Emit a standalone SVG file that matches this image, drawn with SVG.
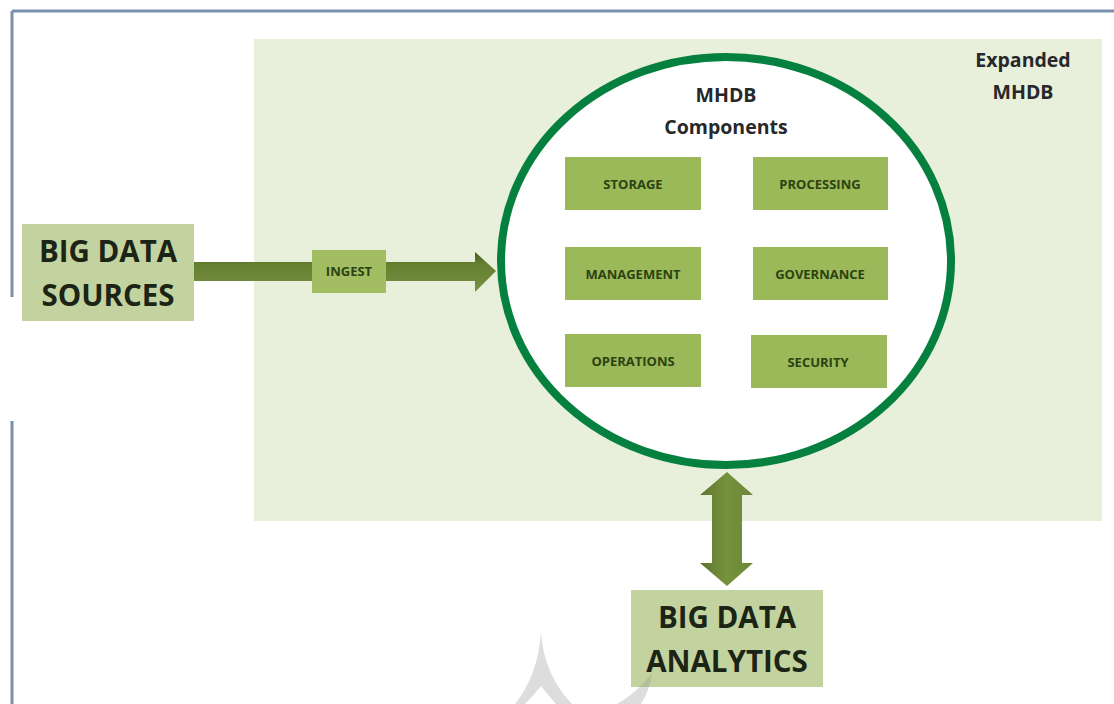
<svg xmlns="http://www.w3.org/2000/svg" width="1114" height="704" viewBox="0 0 1114 704">
<defs>
<linearGradient id="h" x1="0" y1="0" x2="0" y2="1"><stop offset="0" stop-color="#46591f"/><stop offset="0.3" stop-color="#64802f"/><stop offset="0.7" stop-color="#70883c"/><stop offset="1" stop-color="#76923c"/></linearGradient>
<linearGradient id="v" x1="0" y1="0" x2="1" y2="0"><stop offset="0" stop-color="#5d7530"/><stop offset="0.5" stop-color="#76923c"/><stop offset="1" stop-color="#6b8636"/></linearGradient>
</defs>
<style>
text{font-family:"Open Sans","Liberation Sans",sans-serif;font-weight:700;text-anchor:middle}
.big{font-size:29.5px;fill:#1c2415}
.head{font-size:19.5px;fill:#26282a}
.small{font-size:13px;fill:#2c4212}
.src{fill:#c3d39f}
.comp{fill:#9bb959}
.line{stroke:#7a8fad;stroke-width:3;fill:none}
</style>
<rect width="1114" height="704" fill="#fff"/>
<g id="frame">
<path class="line" d="M12 11H1114"/>
<path class="line" d="M12 11V297M12 421V704"/>
</g>
<g id="expanded-mhdb">
<rect x="254" y="39" width="848" height="482" fill="#e8efda"/>
<text class="head" x="1023" y="67">Expanded</text>
<text class="head" x="1023" y="99">MHDB</text>
</g>
<g id="mhdb-components">
<ellipse cx="726" cy="261" rx="225" ry="204" fill="#fff" stroke="#06803f" stroke-width="8"/>
<text class="head" x="726" y="102">MHDB</text>
<text class="head" x="726" y="134">Components</text>
</g>
<g id="connectors">
<path fill="url(#h)" d="M194 262H475V252L496 271L475 292V281H194Z"/>
<path fill="url(#v)" d="M727 472L753 495H742V563H753L727 586L700 563H712V495H700Z"/>
</g>
<g id="storage"><rect class="comp" x="565" y="157" width="136" height="53"/><text class="small" x="633" y="189">STORAGE</text></g>
<g id="processing"><rect class="comp" x="753" y="157" width="135" height="53"/><text class="small" x="820" y="189">PROCESSING</text></g>
<g id="management"><rect class="comp" x="565" y="247" width="136" height="53"/><text class="small" x="633" y="279">MANAGEMENT</text></g>
<g id="governance"><rect class="comp" x="753" y="247" width="135" height="53"/><text class="small" x="820" y="279">GOVERNANCE</text></g>
<g id="operations"><rect class="comp" x="565" y="334" width="136" height="53"/><text class="small" x="633" y="366">OPERATIONS</text></g>
<g id="security"><rect class="comp" x="751" y="335" width="136" height="53"/><text class="small" x="818" y="367">SECURITY</text></g>
<g id="ingest"><rect x="312" y="250" width="74" height="43" fill="#a2bd62"/><text class="small" x="349" y="276">INGEST</text></g>
<g id="big-data-sources"><rect class="src" x="22" y="224" width="172" height="97"/>
<text class="big" x="108" y="262">BIG DATA</text><text class="big" x="108" y="306">SOURCES</text></g>
<g id="big-data-analytics"><rect class="src" x="631" y="590" width="192" height="97"/>
<text class="big" x="727" y="628">BIG DATA</text><text class="big" x="727" y="672">ANALYTICS</text></g>
<g id="watermark" fill="#8f8f8f" fill-opacity="0.3">
<path d="M541 632Q544 675 572 704H556Q548 695 541 686Q534 695 525 704H515Q538 675 541 632Z"/>
<path d="M617 704Q638 692 652 673Q650 690 641 704Z"/>
</g>
</svg>
